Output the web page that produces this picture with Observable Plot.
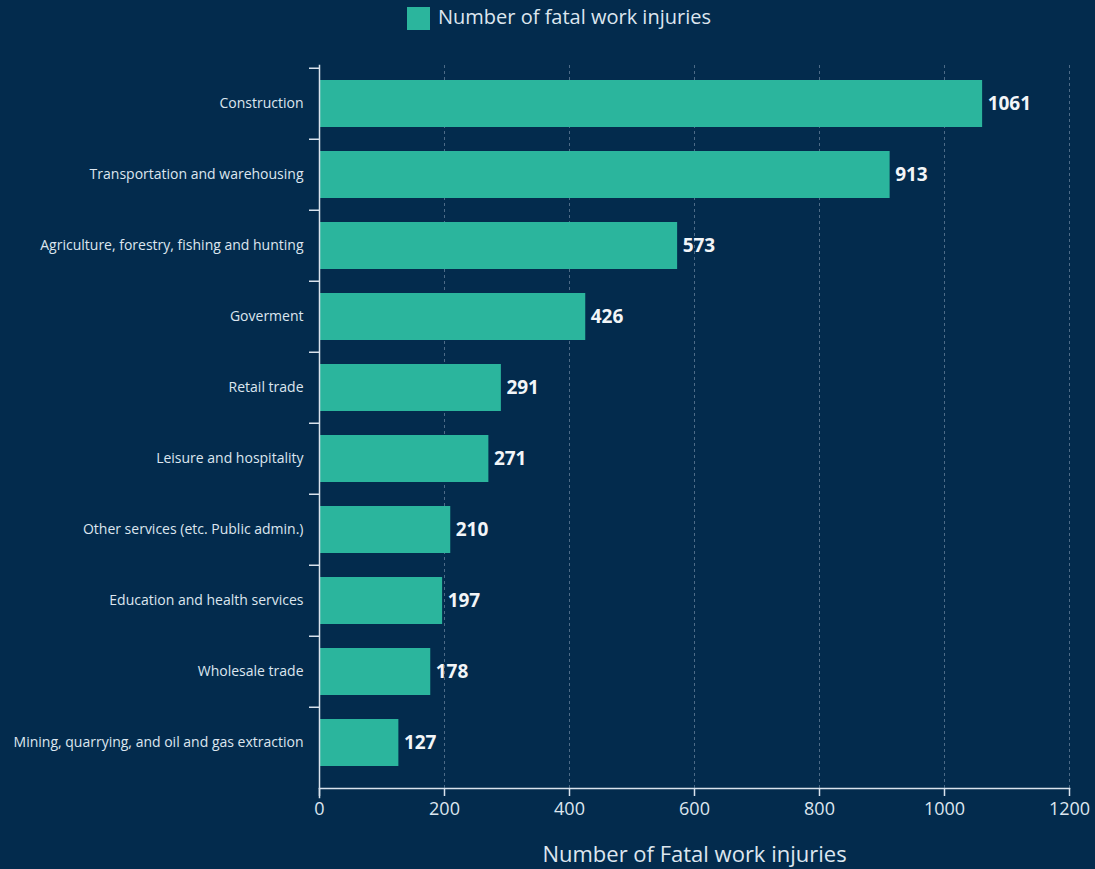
<!DOCTYPE html>
<html>
<head>
<meta charset="utf-8">
<script src="https://cdn.jsdelivr.net/npm/d3@7"></script>
<script src="https://cdn.jsdelivr.net/npm/@observablehq/plot@0.6"></script>
<style>
  html, body { margin: 0; padding: 0; background: #032b4d; }
  body { width: 1095px; height: 869px; overflow: hidden; font-family: "Open Sans", "Noto Sans", sans-serif; }
  #legend { position: relative; height: 40px; }
  #legend .sw { position: absolute; left: 407px; top: 7px; width: 23px; height: 23px; background: #2bb59d; }
  #legend .lb { position: absolute; left: 438px; top: 3px; font-size: 20px; color: #dde6ef; white-space: nowrap; }
  #chart svg { display: block; }
</style>
</head>
<body>
<div id="legend"><div class="sw"></div><div class="lb">Number of fatal work injuries</div></div>
<div id="chart"></div>
<script>
const categories = [
  "Construction",
  "Transportation and warehousing",
  "Agriculture, forestry, fishing and hunting",
  "Goverment",
  "Retail trade",
  "Leisure and hospitality",
  "Other services (etc. Public admin.)",
  "Education and health services",
  "Wholesale trade",
  "Mining, quarrying, and oil and gas extraction"
];
const values = [1061, 913, 573, 426, 291, 271, 210, 197, 178, 127];
const xTicks = [0, 200, 400, 600, 800, 1000, 1200];
const xLabel = "Number of Fatal work injuries";

const data = categories.map((c, i) => ({category: c, value: values[i]}));

const W = 1095, H = 829;
const mTop = 25, mBottom = 89, mLeft = 319, mRight = 26;
const step = (H - mTop - mBottom) / categories.length;
const textColor = "#dde6ef";
const barColor = "#2bb59d";

const chart = Plot.plot({
  width: W,
  height: H,
  marginTop: mTop,
  marginBottom: mBottom,
  marginLeft: mLeft,
  marginRight: mRight,
  style: {background: "#032b4d", color: textColor, fontFamily: "'Open Sans', 'Noto Sans', sans-serif"},
  x: {domain: [0, 1200]},
  y: {domain: categories, paddingInner: 0.34, paddingOuter: 0.17},
  marks: [
    Plot.gridX(xTicks.filter(t => t > 0), {stroke: "#8aa0b8", strokeOpacity: 0.55, strokeDasharray: "3,3", insetBottom: -8}),
    Plot.barX(data, {y: "category", x: "value", fill: barColor, insetLeft: 1}),
    Plot.text(data, {y: "category", x: "value", text: d => String(d.value), textAnchor: "start", dx: 5, fill: "#f2f5f8", fontSize: 19, fontWeight: "bold"}),
    Plot.frame({anchor: "left", stroke: "#d9e2ec", strokeWidth: 1.5, insetBottom: -17}),
    Plot.frame({anchor: "bottom", stroke: "#d9e2ec", strokeWidth: 1.5, dy: 8}),
    Plot.axisY({tickSize: 0, tickPadding: 16, fontSize: 14, fill: textColor, label: null}),
    Plot.axisY({tickSize: 10, tickFormat: () => "", dy: -step / 2, stroke: "#d9e2ec", strokeWidth: 1.5, label: null}),
    Plot.axisX({ticks: xTicks, tickFormat: d => String(d), tickSize: 8, dy: 8, tickPadding: 6, fontSize: 18, fill: textColor, stroke: "#d9e2ec", strokeWidth: 1.5, label: null}),
    Plot.axisX({ticks: [], label: xLabel, labelAnchor: "center", labelArrow: "none", labelOffset: 81, fontSize: 22, fill: textColor})
  ]
});
document.getElementById("chart").appendChild(chart);
</script>
</body>
</html>
